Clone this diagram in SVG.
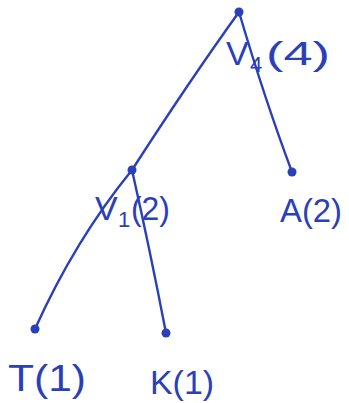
<svg xmlns="http://www.w3.org/2000/svg" width="349" height="403" viewBox="0 0 349 403">
<style>
.e{fill:none;stroke:#2b3fb8;stroke-width:2.4;stroke-linecap:round}
.d{fill:#2b3fb8}
.t{font-family:"Liberation Sans",Arial,sans-serif;fill:#2b3fb8;font-size:34px}
.s{font-size:22px}
</style>
<rect width="349" height="403" fill="#fff"/>
<g id="edges">
<path class="e" d="M239,12 Q190,80 132,170"/>
<path class="e" d="M239,12 Q265,100 292,172"/>
<path class="e" d="M132,170 Q75,240 35,329"/>
<path class="e" d="M132,170 Q150,250 166,333"/>
</g>
<g id="root">
<circle class="d" cx="239" cy="12" r="4.5"/>
<text class="t" x="226" y="65">V</text>
<text class="t s" x="250" y="72">4</text>
<text class="t" x="266" y="65" textLength="64" lengthAdjust="spacingAndGlyphs">(4)</text>
</g>
<g id="v1">
<circle class="d" cx="132" cy="170" r="4.5"/>
<text class="t" x="95" y="220">V</text>
<text class="t s" x="118" y="227">1</text>
<text class="t" x="131" y="220" textLength="39" lengthAdjust="spacingAndGlyphs">(2)</text>
</g>
<g id="a">
<circle class="d" cx="292" cy="172" r="4.5"/>
<text class="t" x="280" y="222" textLength="62" lengthAdjust="spacingAndGlyphs">A(2)</text>
</g>
<g id="t">
<circle class="d" cx="35" cy="329" r="4.5"/>
<text class="t" x="8" y="391" style="font-size:36px" textLength="78" lengthAdjust="spacingAndGlyphs">T(1)</text>
</g>
<g id="k">
<circle class="d" cx="166" cy="333" r="4.5"/>
<text class="t" x="150" y="394" textLength="64" lengthAdjust="spacingAndGlyphs">K(1)</text>
</g>
</svg>
